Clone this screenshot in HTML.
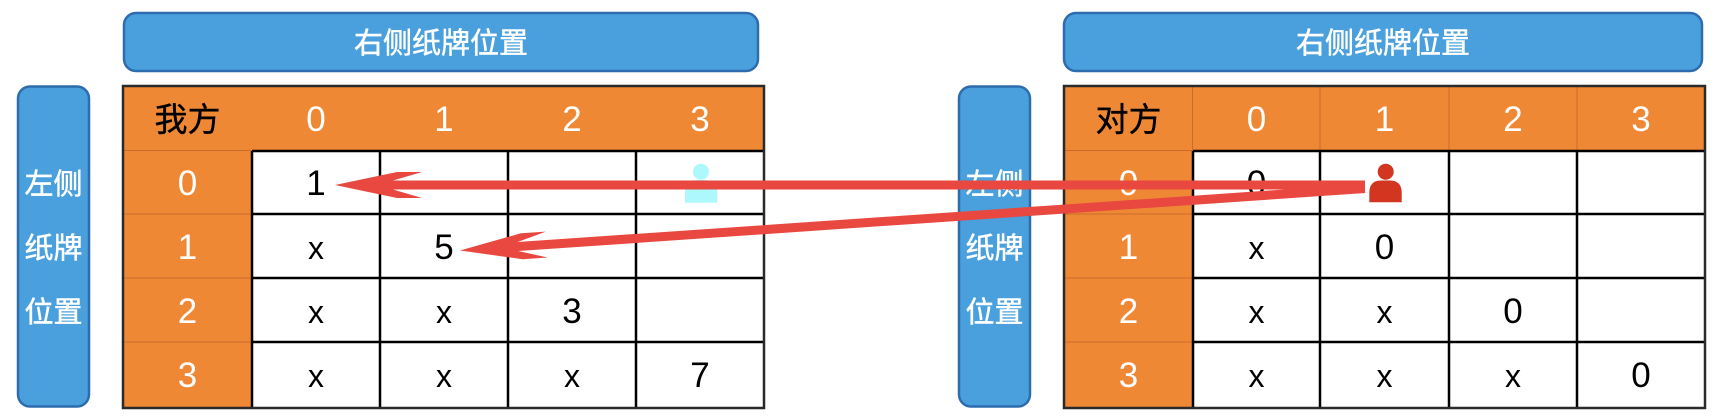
<!DOCTYPE html>
<html><head><meta charset="utf-8"><style>
html,body{margin:0;padding:0;background:#fff;}
svg{display:block;}
.cj{font-family:"Liberation Sans","Noto Sans CJK SC",sans-serif;}
.d{font-family:"Liberation Sans",sans-serif;font-size:35px;text-anchor:middle;}
.w{fill:#fff;}
.k{fill:#000;}
</style></head><body>
<svg width="1718" height="418" viewBox="0 0 1718 418" xmlns="http://www.w3.org/2000/svg">
<!-- top blue boxes -->
<rect x="124" y="13" width="634" height="58" rx="12" fill="#4aa0dc" stroke="#2d6cae" stroke-width="2.5"/>
<rect x="1064" y="13" width="638" height="58" rx="12" fill="#4aa0dc" stroke="#2d6cae" stroke-width="2.5"/>
<text class="cj" x="441" y="53" font-size="29" fill="#fff" stroke="#fff" stroke-width="0.5" text-anchor="middle">右侧纸牌位置</text>
<text class="cj" x="1383" y="53" font-size="29" fill="#fff" stroke="#fff" stroke-width="0.5" text-anchor="middle">右侧纸牌位置</text>
<!-- side blue boxes -->
<rect x="18" y="86.5" width="71" height="320" rx="12" fill="#4aa0dc" stroke="#2d6cae" stroke-width="2.5"/>
<rect x="959" y="86.5" width="71" height="320" rx="12" fill="#4aa0dc" stroke="#2d6cae" stroke-width="2.5"/>
<g class="cj" font-size="29" fill="#fff" stroke="#fff" stroke-width="0.5" text-anchor="middle">
<text x="53.5" y="194">左侧</text>
<text x="53.5" y="258">纸牌</text>
<text x="53.5" y="322">位置</text>
<text x="994.5" y="194">左侧</text>
<text x="994.5" y="258">纸牌</text>
<text x="994.5" y="322">位置</text>
</g>

<!-- LEFT TABLE -->
<rect x="123" y="86" width="641" height="322" fill="#ef8835"/>
<rect x="252" y="151" width="512" height="257" fill="#fff"/>
<g stroke="#c76c2a" stroke-width="1">
<line x1="123" y1="150.5" x2="252" y2="150.5"/>
<line x1="123" y1="214" x2="252" y2="214"/>
<line x1="123" y1="278" x2="252" y2="278"/>
<line x1="123" y1="342" x2="252" y2="342"/>
</g>
<g stroke="#000" stroke-width="2.5">
<line x1="252" y1="151" x2="764" y2="151"/>
<line x1="252" y1="214" x2="764" y2="214"/>
<line x1="252" y1="278" x2="764" y2="278"/>
<line x1="252" y1="342" x2="764" y2="342"/>
<line x1="252" y1="151" x2="252" y2="408"/>
<line x1="380" y1="151" x2="380" y2="408"/>
<line x1="508" y1="151" x2="508" y2="408"/>
<line x1="636" y1="151" x2="636" y2="408"/>
</g>
<rect x="123" y="86" width="641" height="322" fill="none" stroke="#2a2a2a" stroke-width="2.5"/>
<text class="cj" x="187.5" y="131" font-size="33" fill="#000" stroke="#000" stroke-width="0.4" text-anchor="middle">我方</text>
<g class="d w">
<text x="316" y="131">0</text><text x="444" y="131">1</text><text x="572" y="131">2</text><text x="700" y="131">3</text>
<text x="187.5" y="195">0</text><text x="187.5" y="259">1</text><text x="187.5" y="323">2</text><text x="187.5" y="387">3</text>
</g>
<g class="d k">
<text x="316" y="195">1</text>
<text x="316" y="259" font-size="32">x</text><text x="444" y="259">5</text>
<text x="316" y="323" font-size="32">x</text><text x="444" y="323" font-size="32">x</text><text x="572" y="323">3</text>
<text x="316" y="387" font-size="32">x</text><text x="444" y="387" font-size="32">x</text><text x="572" y="387" font-size="32">x</text><text x="700" y="387">7</text>
</g>
<!-- cyan person -->
<circle cx="701" cy="171.7" r="8" fill="#adf8fc"/>
<path d="M685,202.7 L685,192 Q685,180 697,180 L705,180 Q717.3,180 717.3,192 L717.3,202.7 Z" fill="#adf8fc"/>

<!-- RIGHT TABLE -->
<rect x="1064" y="86" width="641" height="322" fill="#ef8835"/>
<rect x="1193" y="151" width="512" height="257" fill="#fff"/>
<g stroke="#c76c2a" stroke-width="1">
<line x1="1064" y1="150.5" x2="1193" y2="150.5"/>
<line x1="1064" y1="214" x2="1193" y2="214"/>
<line x1="1064" y1="278" x2="1193" y2="278"/>
<line x1="1064" y1="342" x2="1193" y2="342"/>
<line x1="1192.5" y1="86" x2="1192.5" y2="151"/>
<line x1="1320" y1="86" x2="1320" y2="151"/>
<line x1="1449" y1="86" x2="1449" y2="151"/>
<line x1="1577" y1="86" x2="1577" y2="151"/>
<line x1="1193" y1="150.5" x2="1705" y2="150.5"/>
</g>
<g stroke="#000" stroke-width="2.5">
<line x1="1193" y1="151" x2="1705" y2="151"/>
<line x1="1193" y1="214" x2="1705" y2="214"/>
<line x1="1193" y1="278" x2="1705" y2="278"/>
<line x1="1193" y1="342" x2="1705" y2="342"/>
<line x1="1193" y1="151" x2="1193" y2="408"/>
<line x1="1320" y1="151" x2="1320" y2="408"/>
<line x1="1449" y1="151" x2="1449" y2="408"/>
<line x1="1577" y1="151" x2="1577" y2="408"/>
</g>
<rect x="1064" y="86" width="641" height="322" fill="none" stroke="#2a2a2a" stroke-width="2.5"/>
<text class="cj" x="1128.5" y="131" font-size="33" fill="#000" stroke="#000" stroke-width="0.4" text-anchor="middle">对方</text>
<g class="d w">
<text x="1256.5" y="131">0</text><text x="1384.5" y="131">1</text><text x="1513" y="131">2</text><text x="1641" y="131">3</text>
<text x="1128.5" y="195">0</text><text x="1128.5" y="259">1</text><text x="1128.5" y="323">2</text><text x="1128.5" y="387">3</text>
</g>
<g class="d k">
<text x="1256.5" y="195">0</text>
<text x="1256.5" y="259" font-size="32">x</text><text x="1384.5" y="259">0</text>
<text x="1256.5" y="323" font-size="32">x</text><text x="1384.5" y="323" font-size="32">x</text><text x="1513" y="323">0</text>
<text x="1256.5" y="387" font-size="32">x</text><text x="1384.5" y="387" font-size="32">x</text><text x="1513" y="387" font-size="32">x</text><text x="1641" y="387">0</text>
</g>
<!-- red person -->
<circle cx="1385.7" cy="171.7" r="8" fill="#d23520"/>
<path d="M1369.3,202.3 L1369.3,193 Q1369.3,180.5 1381,180.5 L1390,180.5 Q1401.7,180.5 1401.7,193 L1401.7,202.3 Z" fill="#d23520"/>

<!-- ARROWS -->
<g fill="#e8483f">
<g transform="translate(335,185)">
<polygon points="0,0 62,-13 87,-13 58,-4.5 1030,-4.5 1030,4.5 58,4.5 87,13 62,13"/>
</g>
<g transform="translate(460,250.5) rotate(-3.92)">
<polygon points="0,0 62,-13 87,-13 58,-4.5 907,-4.5 907,4.5 58,4.5 87,13 62,13"/>
</g>
</g>
</svg>
</body></html>
